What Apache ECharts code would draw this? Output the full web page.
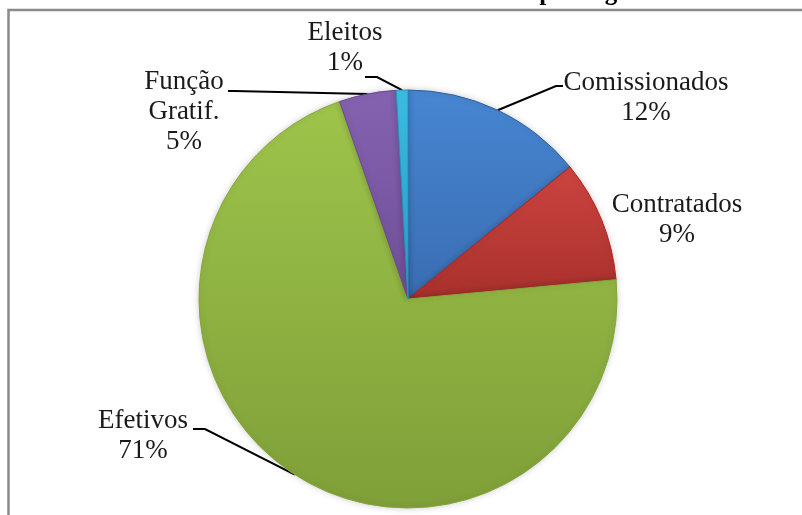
<!DOCTYPE html>
<html>
<head>
<meta charset="utf-8">
<script src="https://cdn.jsdelivr.net/npm/echarts@6/dist/echarts.min.js"></script>
<style>
  html, body { margin: 0; padding: 0; background: #ffffff; }
  #chart { width: 802px; height: 515px; }
</style>
</head>
<body>
<div id="chart"></div>
<script>
// categories, clockwise from 12 o'clock
const categories = ["Comissionados", "Contratados", "Efetivos", "Função Gratif.", "Eleitos"];
// sector sizes as drawn in the picture (%)
const sliceValues = [14.1, 9.4, 71.1, 4.4, 0.9];
// percentages as printed on the labels
const percentLabels = ["12%", "9%", "71%", "5%", "1%"];

const SLICE_COLORS = [
  ["#4786d2", "#3a6db2", "#2f5f9e"], // blue   (top, bottom, border)
  ["#cc4440", "#a8302c", "#b8201c"], // red
  ["#9ec44b", "#7f9f38", "#86a63d"], // green
  ["#8562b0", "#6f4f98", "#6b4a93"], // purple
  ["#3dbde4", "#2aa3cc", "#2196c0"], // cyan
];

// label centre positions and guide-line elbow / end points
const LABEL_POS = [[646, 98], [677, 220], [143, 436], [184, 112], [345, 48]];
const GUIDE = [
  [[556, 86], [563, 86]],
  null,
  [[205, 429], [193, 429]],
  [[234, 91], [228, 91]],
  [[377, 77], [365, 77]],
];

const chart = echarts.init(document.getElementById("chart"), null, { renderer: "canvas" });

const data = categories.map((name, i) => ({
  name: name,
  value: sliceValues[i],
  itemStyle: {
    color: new echarts.graphic.LinearGradient(0, 0, 0, 1, [
      { offset: 0, color: SLICE_COLORS[i][0] },
      { offset: 1, color: SLICE_COLORS[i][1] },
    ]),
    borderColor: SLICE_COLORS[i][2],
  },
  labelLine: { show: GUIDE[i] !== null },
}));

const option = {
  backgroundColor: "#ffffff",
  animation: false,
  title: {
    text: "Gráfico 1 – Percentual de servidores por regime",
    left: "center",
    top: -19,
    padding: 0,
    textStyle: {
      fontFamily: "Liberation Serif",
      fontWeight: "bold",
      fontSize: 25,
      lineHeight: 25,
      color: "#000",
    },
  },
  graphic: [
    {
      type: "rect",
      shape: { x: 8.5, y: 10, width: 900, height: 700 },
      style: { fill: "none", stroke: "#8a8a8a", lineWidth: 2.5 },
      z: 10,
    },
  ],
  series: [
    {
      type: "pie",
      center: [408, 299],
      radius: 209,
      startAngle: 90,
      clockwise: true,
      avoidLabelOverlap: false,
      data: data,
      itemStyle: {
        borderWidth: 1,
        shadowBlur: 6,
        shadowColor: "rgba(0,0,0,0.18)",
      },
      label: {
        show: true,
        position: "outside",
        fontFamily: "Liberation Serif",
        fontSize: 27,
        lineHeight: 30,
        color: "#1a1a1a",
        formatter: (p) => p.name.replace(" ", "\n") + "\n" + percentLabels[p.dataIndex],
      },
      labelLine: {
        show: true,
        length: 20,
        length2: 10,
        lineStyle: { color: "#000", width: 2 },
      },
      labelLayout: (params) => {
        const i = params.dataIndex;
        const out = {
          x: LABEL_POS[i][0],
          y: LABEL_POS[i][1],
          align: "center",
          verticalAlign: "middle",
        };
        if (GUIDE[i] && params.labelLinePoints) {
          out.labelLinePoints = [params.labelLinePoints[0], GUIDE[i][0], GUIDE[i][1]];
        }
        return out;
      },
    },
  ],
};

chart.setOption(option);
</script>
</body>
</html>
